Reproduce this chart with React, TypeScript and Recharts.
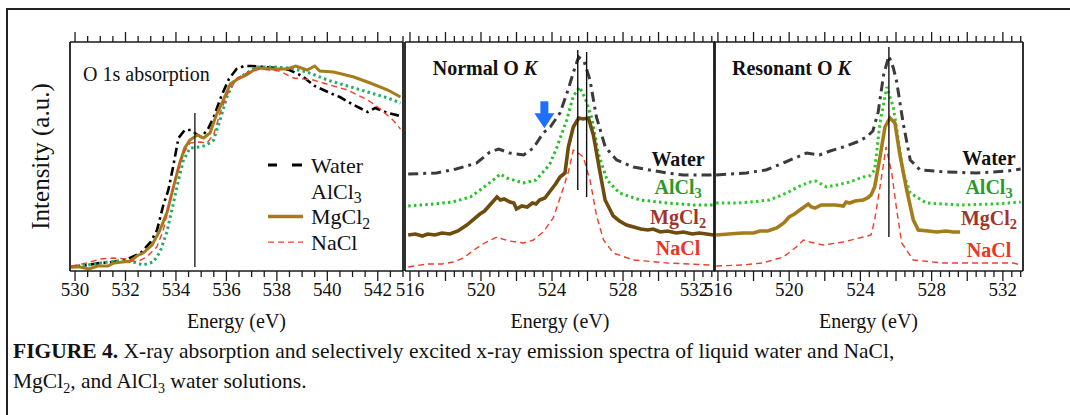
import React from 'react';
import { LineChart, Line, XAxis, YAxis, ReferenceLine, ReferenceDot, Legend } from 'recharts';

const FONT = '"Liberation Serif", "Times New Roman", Times, serif';

// ---------- Panel 1: O 1s absorption (energy eV, intensity a.u.) ----------
const absWater: [number, number][] = [
  [529.85, 4], [530.5, 6], [531.0, 8], [531.5, 9], [532.0, 11], [532.6, 18], [533.0, 29], [533.25, 41],
  [533.5, 66], [533.7, 81], [533.9, 106], [534.1, 133], [534.35, 141], [534.6, 141], [534.8, 137],
  [535.0, 134], [535.25, 141], [535.5, 154], [535.8, 175], [536.1, 192], [536.4, 202], [536.7, 205],
  [537.0, 205], [537.5, 204], [538.0, 203], [538.5, 201], [539.0, 195], [539.5, 185], [539.85, 181],
  [540.2, 177], [540.5, 174], [541.05, 166], [541.6, 159], [541.9, 163], [542.4, 158], [542.9, 155],
];
const absAlCl3: [number, number][] = [
  [529.85, 4], [530.5, 6], [531.0, 8], [531.65, 10], [532.3, 9], [532.7, 6], [533.1, 9], [533.37, 19],
  [533.64, 39], [533.9, 68], [534.1, 91], [534.3, 111], [534.56, 123], [534.96, 124], [535.22, 126],
  [535.49, 131], [535.75, 151], [536.02, 174], [536.28, 189], [536.68, 196], [537.2, 204], [537.87, 204],
  [538.5, 203], [539.2, 199], [540.0, 191], [540.8, 185], [541.6, 179], [542.4, 173], [542.9, 168],
];
const absMgCl2: [number, number][] = [
  [529.85, 4], [530.2, 4], [530.55, 2], [530.9, 5], [531.3, 5], [531.55, 8], [532.2, 10], [532.45, 15],
  [532.7, 18], [533.05, 26], [533.35, 40], [533.65, 59], [533.9, 84], [534.15, 108], [534.35, 123],
  [534.55, 131], [534.85, 136], [535.1, 133], [535.35, 138], [535.6, 156], [535.9, 172], [536.15, 187],
  [536.45, 192], [536.8, 196], [537.2, 203], [537.85, 202], [538.4, 202], [538.75, 205], [539.2, 201],
  [539.5, 205], [539.7, 200], [540.25, 199], [541.05, 194], [541.7, 188], [542.4, 181], [542.9, 174],
];
const absNaCl: [number, number][] = [
  [529.85, 5], [530.46, 8], [531.0, 12], [531.52, 13], [532.05, 12], [532.45, 9], [532.84, 14],
  [533.24, 24], [533.5, 41], [533.77, 71], [534.03, 98], [534.3, 118], [534.56, 128], [534.96, 129],
  [535.22, 128], [535.49, 136], [535.75, 158], [536.02, 176], [536.42, 193], [536.81, 198], [537.34, 202],
  [538.1, 200], [538.65, 193], [539.44, 191], [540.1, 186], [540.8, 181], [541.6, 171], [542.0, 164],
  [542.6, 151], [542.9, 142],
];

// ---------- Panel 2: Normal O K emission ----------
const normWater: [number, number][] = [
  [515.9, 97], [517.5, 98], [518.6, 102], [519.76, 108], [520.5, 119], [521.0, 122], [521.6, 118],
  [522.4, 116], [522.95, 123], [523.5, 138], [523.9, 144], [524.45, 158], [524.9, 181], [525.3, 204],
  [525.5, 214], [525.8, 210], [526.14, 191], [526.5, 154], [527.0, 124], [527.64, 111], [528.58, 104],
  [529.5, 101], [530.5, 98], [531.4, 96], [532.9, 96], [533.15, 97],
];
const normAlCl3: [number, number][] = [
  [515.9, 65], [517.3, 67], [518.4, 69], [519.4, 74], [520.1, 83], [520.9, 94], [521.07, 97],
  [521.45, 93], [522.38, 88], [523.1, 91], [523.7, 103], [523.9, 108], [524.26, 123], [524.83, 151],
  [525.2, 175], [525.55, 184], [525.86, 173], [526.24, 153], [526.6, 118], [527.1, 91], [527.8, 78],
  [528.96, 71], [530.5, 68], [532.0, 66], [533.15, 66],
];
const normMgCl2: [number, number][] = [
  [515.9, 36], [516.3, 37], [516.7, 35], [517.0, 37], [517.4, 36], [517.8, 38], [518.25, 37], [518.7, 40],
  [519.2, 46], [519.6, 52], [519.94, 57], [520.2, 60], [520.5, 66], [520.9, 74], [521.1, 71], [521.3, 72],
  [521.63, 69], [521.85, 68], [522.0, 62], [522.3, 65], [522.6, 64], [522.9, 68], [523.1, 67], [523.3, 71],
  [523.6, 73], [523.9, 80], [524.2, 87], [524.45, 94], [524.73, 98], [524.92, 124], [525.2, 144],
  [525.5, 153], [525.75, 152], [526.05, 153], [526.33, 136], [526.7, 99], [526.99, 71], [527.45, 55],
  [527.8, 50], [528.2, 46], [528.6, 44], [529.0, 42], [529.4, 41], [529.7, 42], [530.1, 39], [530.5, 40],
  [531.0, 38], [531.4, 39], [531.9, 37], [532.3, 38], [532.7, 37], [533.1, 36],
];
const normNaCl: [number, number][] = [
  [515.9, 4], [516.94, 7], [517.8, 7], [518.44, 9], [519.0, 13], [519.6, 21], [520.2, 28], [520.9, 34],
  [521.2, 32], [521.6, 30], [522.4, 28], [522.95, 31], [523.5, 39], [524.07, 53], [524.64, 83],
  [524.92, 99], [525.2, 121], [525.48, 118], [525.76, 114], [526.14, 91], [526.5, 56], [526.9, 31],
  [527.45, 18], [528.58, 11], [530.5, 8], [532.9, 6], [533.15, 5],
];

// ---------- Panel 3: Resonant O K emission ----------
const resWater: [number, number][] = [
  [515.9, 96], [517.6, 98], [518.7, 101], [519.8, 109], [520.98, 118], [521.7, 116], [522.3, 120],
  [523.04, 124], [523.8, 129], [524.35, 134], [524.7, 140], [525.0, 159], [525.3, 196], [525.6, 215],
  [525.85, 203], [526.04, 189], [526.4, 148], [526.8, 111], [527.35, 101], [528.85, 99], [530.5, 98],
  [531.47, 99], [532.3, 100], [533.0, 102],
];
const resAlCl3: [number, number][] = [
  [515.9, 68], [517.05, 68], [517.8, 69], [518.9, 71], [519.86, 78], [520.6, 85], [521.17, 89],
  [521.5, 90], [522.1, 84], [522.67, 86], [523.4, 89], [524.16, 94], [524.5, 95], [524.8, 101],
  [525.1, 148], [525.48, 184], [525.85, 164], [526.13, 131], [526.4, 98], [526.8, 78], [527.7, 68],
  [529.6, 66], [531.5, 67], [533.0, 69],
];
const resMgCl2: [number, number][] = [
  [515.9, 36], [516.6, 37], [517.4, 38], [518.0, 38], [518.36, 40], [518.8, 40], [519.3, 43], [519.7, 48],
  [520.0, 54], [520.3, 57], [520.6, 61], [521.07, 67], [521.25, 64], [521.45, 63], [521.8, 66], [522.1, 66],
  [522.6, 66], [523.04, 65], [523.2, 69], [523.4, 68], [523.7, 70], [524.16, 71], [524.4, 73], [524.6, 76],
  [524.8, 84], [525.1, 114], [525.38, 144], [525.66, 153], [525.94, 148], [526.2, 118], [526.6, 81],
  [526.97, 51], [527.25, 41], [527.8, 40], [528.3, 39], [528.8, 40], [529.2, 39], [529.6, 39],
];
const resNaCl: [number, number][] = [
  [515.9, 5], [517.4, 6], [518.5, 8], [519.67, 14], [520.4, 24], [520.8, 31], [521.17, 29], [521.9, 26],
  [523.04, 29], [524.16, 34], [524.6, 36], [524.8, 51], [525.1, 84], [525.44, 124], [525.76, 98],
  [526.04, 61], [526.32, 28], [526.97, 11], [528.66, 8], [530.5, 8], [532.6, 8], [533.0, 6],
];

// ---------- axes / ticks ----------
const absDomain: [number, number] = [529.8, 543.0];
const normDomain: [number, number] = [515.72, 533.18];
const resDomain: [number, number] = [515.78, 533.13];
const intensityDomain: [number, number] = [0, 229];

const absLabels = [530, 532, 534, 536, 538, 540, 542];
const absMajor = [530, 532, 534, 536, 538, 540, 542];
const emLabels = [516, 520, 524, 528, 532];
const emMajor = [516, 518, 520, 522, 524, 526, 528, 530, 532];

const range = (a: number, b: number, s: number) => {
  const out: number[] = [];
  for (let v = a; v <= b + 1e-9; v += s) out.push(Math.round(v * 100) / 100);
  return out;
};
const absTicks = range(530, 543, 0.5);
const emTicks = range(516, 533, 0.5);

// ---------- annotations ----------
const absMarker = 534.75;
const normMarkers = [525.45, 525.95];
const resMarker = 525.6;

type Series = { name: string; data: [number, number][]; stroke: string; width: number; dash?: string };

const C_WATER = '#3b3b3b';
const absSeries: Series[] = [
  { name: 'Water', data: absWater, stroke: '#000000', width: 2.6, dash: '9 4 2.5 4' },
  { name: 'AlCl3', data: absAlCl3, stroke: '#1fae6a', width: 3, dash: '2.5 3.2' },
  { name: 'MgCl2', data: absMgCl2, stroke: '#a47c1c', width: 3 },
  { name: 'NaCl', data: absNaCl, stroke: '#f0412a', width: 1.4, dash: '6 4' },
];
const normSeries: Series[] = [
  { name: 'Water', data: normWater, stroke: C_WATER, width: 3, dash: '10 5 3 5' },
  { name: 'AlCl3', data: normAlCl3, stroke: '#22c322', width: 3, dash: '2.5 3.2' },
  { name: 'MgCl2', data: normMgCl2, stroke: '#6e4c0d', width: 3.6 },
  { name: 'NaCl', data: normNaCl, stroke: '#ee3e2a', width: 1.4, dash: '6 4' },
];
const resSeries: Series[] = [
  { name: 'Water', data: resWater, stroke: C_WATER, width: 3, dash: '10 5 3 5' },
  { name: 'AlCl3', data: resAlCl3, stroke: '#2bcb2b', width: 3, dash: '2.5 3.2' },
  { name: 'MgCl2', data: resMgCl2, stroke: '#a57c1a', width: 3.6 },
  { name: 'NaCl', data: resNaCl, stroke: '#ee3e2a', width: 1.4, dash: '6 4' },
];

const seriesLabelColors: Record<string, string> = {
  Water: '#111111',
  AlCl3: '#2a9a2a',
  MgCl2: '#a3342a',
  NaCl: '#ee3322',
};
const normLabelPos: [string, number, number][] = [
  ['Water', 531.1, 112], ['AlCl3', 531.1, 84], ['MgCl2', 531.1, 54], ['NaCl', 531.1, 23],
];
const resLabelPos: [string, number, number][] = [
  ['Water', 531.22, 113], ['AlCl3', 531.22, 84], ['MgCl2', 531.22, 53], ['NaCl', 531.22, 21],
];

const chem = (s: string, fs: number) => {
  const m = s.match(/^(.*?)(\d)$/);
  if (!m) return s;
  return [
    <tspan key="a">{m[1]}</tspan>,
    <tspan key="b" dy={fs * 0.28} fontSize={fs * 0.72}>{m[2]}</tspan>,
  ];
};

const toPts = (d: [number, number][]) => d.map(([e, i]) => ({ e, i }));

const makeTick = (side: 'top' | 'bottom', major: number[], labels: number[], showLabels: boolean) =>
  (props: any) => {
    const { x, y, payload } = props;
    const v = payload.value;
    const isMajor = major.some((m) => Math.abs(m - v) < 1e-6);
    const isLabel = labels.some((m) => Math.abs(m - v) < 1e-6);
    const len = isMajor ? 10 : 6;
    const dir = side === 'top' ? -1 : 1;
    return (
      <g>
        <line x1={x} x2={x} y1={y} y2={y + dir * len} stroke="#1a1a1a" strokeWidth={1.3} />
        {showLabels && isLabel && (
          <text x={x} y={y + 25} textAnchor="middle" fontFamily={FONT} fontSize={19} fill="#111">
            {v}
          </text>
        )}
      </g>
    );
  };

const EnergyLabel = (props: any) => {
  const vb = props.viewBox || {};
  return (
    <text x={vb.x + vb.width / 2} y={vb.y + 57} textAnchor="middle" fontFamily={FONT} fontSize={20} fill="#111">
      Energy (eV)
    </text>
  );
};

const IntensityLabel = (props: any) => {
  const vb = props.viewBox || {};
  const cx = vb.x + vb.width - 30;
  const cy = vb.y + vb.height / 2;
  return (
    <text x={cx} y={cy} transform={`rotate(-90, ${cx}, ${cy})`} textAnchor="middle" dominantBaseline="central"
      fontFamily={FONT} fontSize={25} fill="#111">
      Intensity (a.u.)
    </text>
  );
};

const AbsLegend = () => {
  const rows = absSeries;
  return (
    <svg width={150} height={110} style={{ overflow: 'visible' }}>
      {rows.map((s, k) => {
        const cy = 15 + k * 25.7;
        let sample: React.ReactNode = null;
        if (s.name === 'Water') sample = <line x1={6} x2={40} y1={cy} y2={cy} stroke="#000" strokeWidth={3} strokeDasharray="9 15 10" />;
        if (s.name === 'MgCl2') sample = <line x1={6} x2={41} y1={cy} y2={cy} stroke={s.stroke} strokeWidth={3.5} />;
        if (s.name === 'NaCl') sample = <line x1={6} x2={41} y1={cy} y2={cy} stroke={s.stroke} strokeWidth={1.4} strokeDasharray="6 4" />;
        return (
          <g key={s.name}>
            {sample}
            <text x={49} y={cy} dominantBaseline="central" fontFamily={FONT} fontSize={22} fill="#111">
              {chem(s.name, 22)}
            </text>
          </g>
        );
      })}
    </svg>
  );
};

type PanelProps = {
  margin: { left: number; right: number };
  domain: [number, number];
  ticks: number[];
  major: number[];
  labels: number[];
  series: Series[];
  yLabel?: boolean;
  children?: React.ReactNode;
};

// plot box: top 42, bottom 271; each axis occupies 1px outside the box
const TOP = 41;
const BOTTOM = 415 - 271 - 1;

const Panel = ({ margin, domain, ticks, major, labels, series, yLabel, children }: PanelProps) => (
  <div style={{ position: 'absolute', left: 0, top: 0 }}>
    <LineChart width={1070} height={415} margin={{ top: TOP, bottom: BOTTOM, left: margin.left - 1, right: margin.right - 1 }}>
      <XAxis xAxisId="b" dataKey="e" type="number" orientation="bottom" domain={domain} allowDataOverflow
        ticks={ticks} interval={0} tickSize={0} tickMargin={0} tickLine={false} height={1}
        tick={makeTick('bottom', major, labels, true)} axisLine={{ stroke: '#1a1a1a', strokeWidth: 1.6 }}
        label={<EnergyLabel />} />
      <XAxis xAxisId="t" dataKey="e" type="number" orientation="top" domain={domain} allowDataOverflow
        ticks={ticks} interval={0} tickSize={0} tickMargin={0} tickLine={false} height={1}
        tick={makeTick('top', major, labels, false)} axisLine={{ stroke: '#1a1a1a', strokeWidth: 1.6 }} />
      <YAxis yAxisId="l" type="number" domain={intensityDomain} allowDataOverflow width={1} tick={false}
        tickLine={false} axisLine={{ stroke: '#1a1a1a', strokeWidth: 1.8 }}
        label={yLabel ? <IntensityLabel /> : undefined} />
      <YAxis yAxisId="r" orientation="right" type="number" domain={intensityDomain} allowDataOverflow width={1}
        tick={false} tickLine={false} axisLine={{ stroke: '#1a1a1a', strokeWidth: 1.8 }} />
      {series.map((s) => (
        <Line key={s.name} xAxisId="b" yAxisId="l" data={toPts(s.data)} dataKey="i" name={s.name} type="linear"
          stroke={s.stroke} strokeWidth={s.width} strokeDasharray={s.dash} dot={false} activeDot={false}
          isAnimationActive={false} />
      ))}
      {children}
    </LineChart>
  </div>
);

const TitleShape = (text: React.ReactNode) => (p: any) => (
  <text x={p.cx} y={p.cy} dominantBaseline="central" fontFamily={FONT} fontSize={20} fontWeight="bold" fill="#111">
    {text}
  </text>
);

const SeriesLabelShape = (name: string) => (p: any) => (
  <text x={p.cx} y={p.cy} textAnchor="middle" dominantBaseline="central" fontFamily={FONT} fontSize={20}
    fontWeight="bold" fill={seriesLabelColors[name]}>
    {chem(name, 20)}
  </text>
);

const ArrowShape = (p: any) => {
  const { cx, cy } = p;
  return (
    <g fill="#1f6fff">
      <rect x={cx - 4} y={cy - 27} width={8} height={13} />
      <polygon points={`${cx - 10},${cy - 15} ${cx + 10},${cy - 15} ${cx},${cy}`} />
    </g>
  );
};

export default function App() {
  return (
    <div style={{ position: 'absolute', left: 0, top: 0, width: 1070, height: 415, overflow: 'hidden', background: '#fff' }}>
      <div style={{ position: 'absolute', left: 6, top: 8, width: 1200, height: 600, borderTop: '2px solid #222', borderLeft: '2px solid #222' }} />

      <Panel margin={{ left: 70, right: 667 }} domain={absDomain} ticks={absTicks} major={absMajor} labels={absLabels}
        series={absSeries} yLabel>
        <ReferenceLine xAxisId="b" yAxisId="l" segment={[{ x: absMarker, y: 4 }, { x: absMarker, y: 158 }]}
          stroke="#222" strokeWidth={1.4} />
        <ReferenceDot xAxisId="b" yAxisId="l" x={530.32} y={197} r={0}
          shape={(p: any) => (
            <text x={p.cx} y={p.cy} dominantBaseline="central" fontFamily={FONT} fontSize={20} fill="#111">O 1s absorption</text>
          )} />
        <Legend layout="vertical" verticalAlign="middle" align="center" content={<AbsLegend />}
          wrapperStyle={{ left: 262, top: 150, width: 150, height: 110 }} />
      </Panel>

      <Panel margin={{ left: 405, right: 355 }} domain={normDomain} ticks={emTicks} major={emMajor} labels={emLabels}
        series={normSeries}>
        {normMarkers.map((m, k) => (
          <ReferenceLine key={m} xAxisId="b" yAxisId="l"
            segment={[{ x: m, y: k === 0 ? 81 : 74 }, { x: m, y: k === 0 ? 221 : 219 }]} stroke="#111" strokeWidth={1.4} />
        ))}
        <ReferenceDot xAxisId="b" yAxisId="l" x={517.28} y={203} r={0}
          shape={TitleShape([<tspan key="a">Normal O </tspan>, <tspan key="b" fontStyle="italic">K</tspan>])} />
        <ReferenceDot xAxisId="b" yAxisId="l" x={523.57} y={142.7} r={0} shape={ArrowShape} />
        {normLabelPos.map(([n, e, i]) => (
          <ReferenceDot key={n} xAxisId="b" yAxisId="l" x={e} y={i} r={0} shape={SeriesLabelShape(n)} />
        ))}
      </Panel>

      <Panel margin={{ left: 714, right: 47 }} domain={resDomain} ticks={emTicks} major={emMajor} labels={emLabels}
        series={resSeries}>
        <ReferenceLine xAxisId="b" yAxisId="l" segment={[{ x: resMarker, y: 34 }, { x: resMarker, y: 224 }]}
          stroke="#111" strokeWidth={1.4} />
        <ReferenceDot xAxisId="b" yAxisId="l" x={516.79} y={203} r={0}
          shape={TitleShape([<tspan key="a">Resonant O </tspan>, <tspan key="b" fontStyle="italic">K</tspan>])} />
        {resLabelPos.map(([n, e, i]) => (
          <ReferenceDot key={n} xAxisId="b" yAxisId="l" x={e} y={i} r={0} shape={SeriesLabelShape(n)} />
        ))}
      </Panel>

      <div style={{ position: 'absolute', left: 13, top: 336, width: 1050, fontFamily: FONT, fontSize: 21.5, lineHeight: '30px', color: '#111' }}>
        <b>FIGURE 4.</b> X-ray absorption and selectively excited x-ray emission spectra of liquid water and NaCl,
        <br />
        MgCl<sub style={{ fontSize: 14, lineHeight: 0 }}>2</sub>, and AlCl<sub style={{ fontSize: 14, lineHeight: 0 }}>3</sub> water solutions.
      </div>
    </div>
  );
}
